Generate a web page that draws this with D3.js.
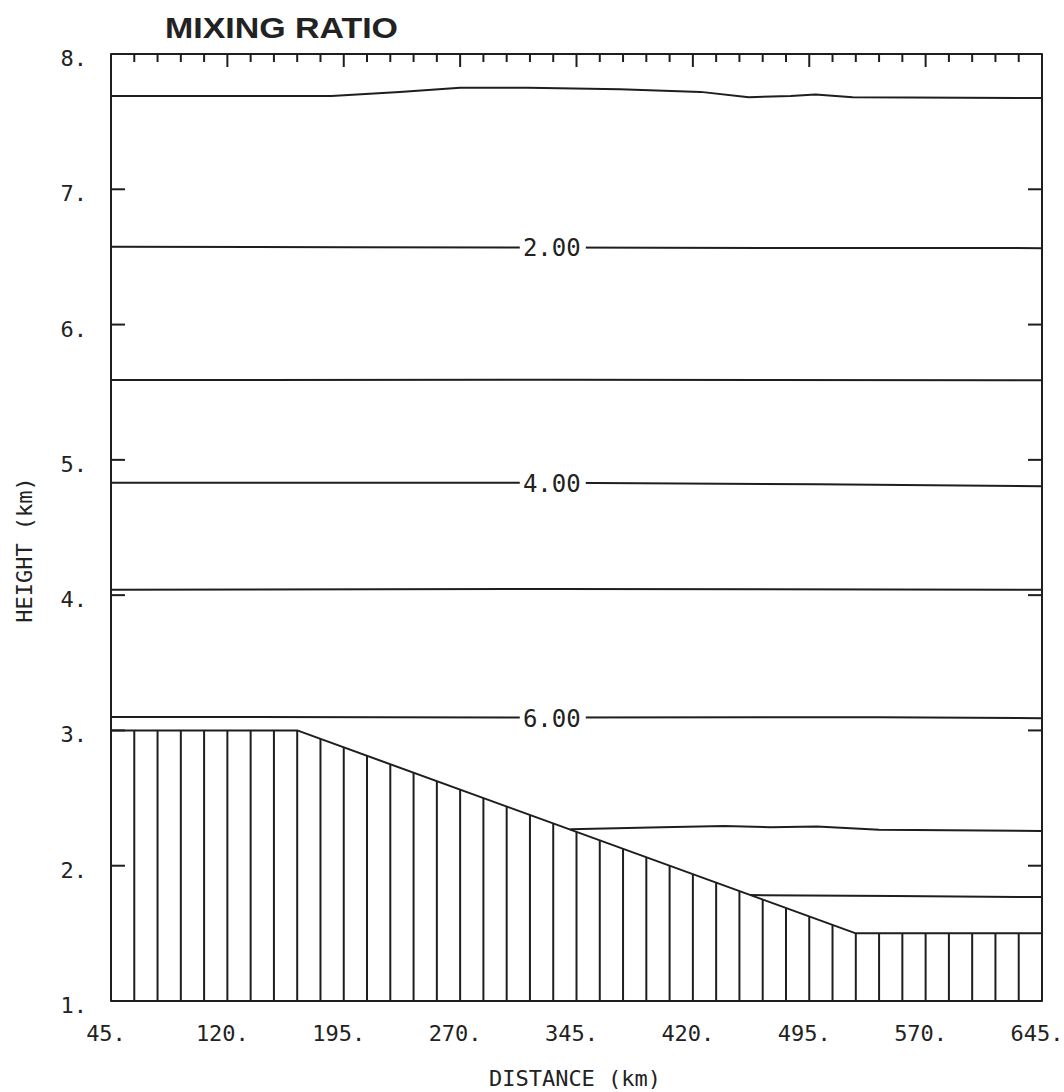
<!DOCTYPE html>
<meta charset="utf-8">
<style>
    body { margin: 0; background: #fff; }
    svg { display: block; }
    .plotfont { font-family: "DejaVu Sans Mono", monospace; fill: #222; }
    .line { fill: none; stroke: #1e1e1e; stroke-width: 2; stroke-linejoin: round; }
</style>
<body>
<div id="chart"></div>
<script src="https://cdnjs.cloudflare.com/ajax/libs/d3/7.8.5/d3.min.js"></script>
<script>
    // axis tick values (km)
    var distTicks = [45, 120, 195, 270, 345, 420, 495, 570, 645];
    var heightTicks = [1, 2, 3, 4, 5, 6, 7, 8];

    // terrain profile [distance, height]
    var terrain = [[45, 3.0], [165, 3.0], [525, 1.5], [645, 1.5]];

    // mixing ratio contours, each a list of [distance, height]
    var contour1 = [[45, 7.69], [187, 7.69], [231, 7.72], [270, 7.75], [314, 7.75], [373, 7.74],
        [425, 7.72], [456, 7.68], [483, 7.69], [499, 7.70], [523, 7.68], [645, 7.675]];
    var contour2 = [[45, 6.575], [200, 6.572], [331, 6.57], [480, 6.566], [645, 6.565]];
    var contour3 = [[45, 5.59], [330, 5.592], [645, 5.588]];
    var contour4 = [[45, 4.83], [331, 4.83], [500, 4.82], [645, 4.805]];
    var contour5 = [[45, 4.04], [330, 4.045], [645, 4.04]];
    var contour6 = [[45, 3.10], [331, 3.095], [540, 3.098], [645, 3.09]];
    var contour7 = [[341, 2.27], [400, 2.285], [440, 2.293], [470, 2.285], [500, 2.29], [540, 2.265], [645, 2.257]];
    var contour8 = [[457, 1.783], [550, 1.776], [645, 1.768]];
    var contours = [contour1, contour2, contour3, contour4, contour5, contour6, contour7, contour8];

    // labelled contours: value, where the label sits
    var contourLabels = [
        { text: "2.00", dist: 331, height: 6.57 },
        { text: "4.00", dist: 331, height: 4.83 },
        { text: "6.00", dist: 331, height: 3.095 }
    ];

    var width = 1064, height = 1092;
    var svg = d3.select("#chart").append("svg")
        .attr("width", width)
        .attr("height", height);

    var x = d3.scaleLinear().domain([45, 645]).range([111, 1042]);
    var y = d3.scaleLinear().domain([1, 8]).range([1001, 54]);

    var line = d3.line().x(d => x(d[0])).y(d => y(d[1]));

    // terrain hatching, a vertical line every 15 km down to the bottom
    var terrainHeight = d3.scaleLinear().domain(terrain.map(d => d[0])).range(terrain.map(d => d[1]));
    var hatch = d3.range(45, 646, 15);
    svg.append("g").selectAll("line")
        .data(hatch)
        .enter().append("line")
        .attr("class", "line")
        .attr("stroke-width", 1.8)
        .attr("x1", d => x(d)).attr("x2", d => x(d))
        .attr("y1", y(1)).attr("y2", d => y(terrainHeight(d)));

    svg.append("path")
        .datum(terrain)
        .attr("class", "line")
        .attr("d", line);

    // contours
    svg.append("g").selectAll("path")
        .data(contours)
        .enter().append("path")
        .attr("class", "line")
        .attr("d", line);

    // contour labels break the line
    var lab = svg.append("g").selectAll("g")
        .data(contourLabels)
        .enter().append("g")
        .attr("transform", d => "translate(" + (x(d.dist) - 3) + "," + y(d.height) + ")");
    lab.append("rect")
        .attr("x", -32).attr("y", -10)
        .attr("width", 66).attr("height", 20)
        .attr("fill", "#fff");
    lab.append("text")
        .attr("class", "plotfont")
        .attr("text-anchor", "middle")
        .attr("y", 9)
        .style("font-size", "24px")
        .text(d => d.text);

    // frame
    svg.append("rect")
        .attr("x", x(45)).attr("y", y(8))
        .attr("width", x(645) - x(45)).attr("height", y(1) - y(8))
        .attr("class", "line");

    // top ticks, minor every 15 km, longer every 75 km
    svg.append("g").selectAll("line")
        .data(hatch)
        .enter().append("line")
        .attr("class", "line")
        .attr("stroke-width", 1.6)
        .attr("x1", d => x(d)).attr("x2", d => x(d))
        .attr("y1", y(8))
        .attr("y2", d => y(8) + ((d - 45) % 75 === 0 ? 13 : 8));

    // side ticks
    var inner = heightTicks.filter(d => d > 1 && d < 8);
    svg.append("g").selectAll("line")
        .data(inner)
        .enter().append("line")
        .attr("class", "line")
        .attr("stroke-width", 1.6)
        .attr("x1", x(45)).attr("x2", x(45) + 14)
        .attr("y1", d => y(d)).attr("y2", d => y(d));
    svg.append("g").selectAll("line")
        .data(inner)
        .enter().append("line")
        .attr("class", "line")
        .attr("stroke-width", 1.6)
        .attr("x1", x(645)).attr("x2", x(645) - 14)
        .attr("y1", d => y(d)).attr("y2", d => y(d));

    // tick labels
    svg.append("g").selectAll("text")
        .data(heightTicks)
        .enter().append("text")
        .attr("class", "plotfont")
        .attr("text-anchor", "end")
        .attr("x", 87)
        .attr("y", d => y(d) + 12)
        .style("font-size", "22px")
        .text(d => d + ".");

    svg.append("g").selectAll("text")
        .data(distTicks)
        .enter().append("text")
        .attr("class", "plotfont")
        .attr("text-anchor", "middle")
        .attr("x", d => x(d) - 5)
        .attr("y", 1041)
        .style("font-size", "22px")
        .text(d => d + ".");

    // axis titles
    svg.append("text")
        .attr("class", "plotfont")
        .attr("text-anchor", "middle")
        .attr("x", 575)
        .attr("y", 1086)
        .style("font-size", "22px")
        .text("DISTANCE (km)");

    svg.append("text")
        .attr("class", "plotfont")
        .attr("text-anchor", "middle")
        .attr("transform", "translate(32,550) rotate(-90)")
        .style("font-size", "22px")
        .text("HEIGHT (km)");

    svg.append("text")
        .attr("x", 165)
        .attr("y", 38)
        .attr("textLength", 233)
        .attr("lengthAdjust", "spacingAndGlyphs")
        .style("font-family", "'Liberation Sans', Arial, sans-serif")
        .style("font-weight", "bold")
        .style("font-size", "29px")
        .style("fill", "#222")
        .text("MIXING RATIO");
</script>
</body>
